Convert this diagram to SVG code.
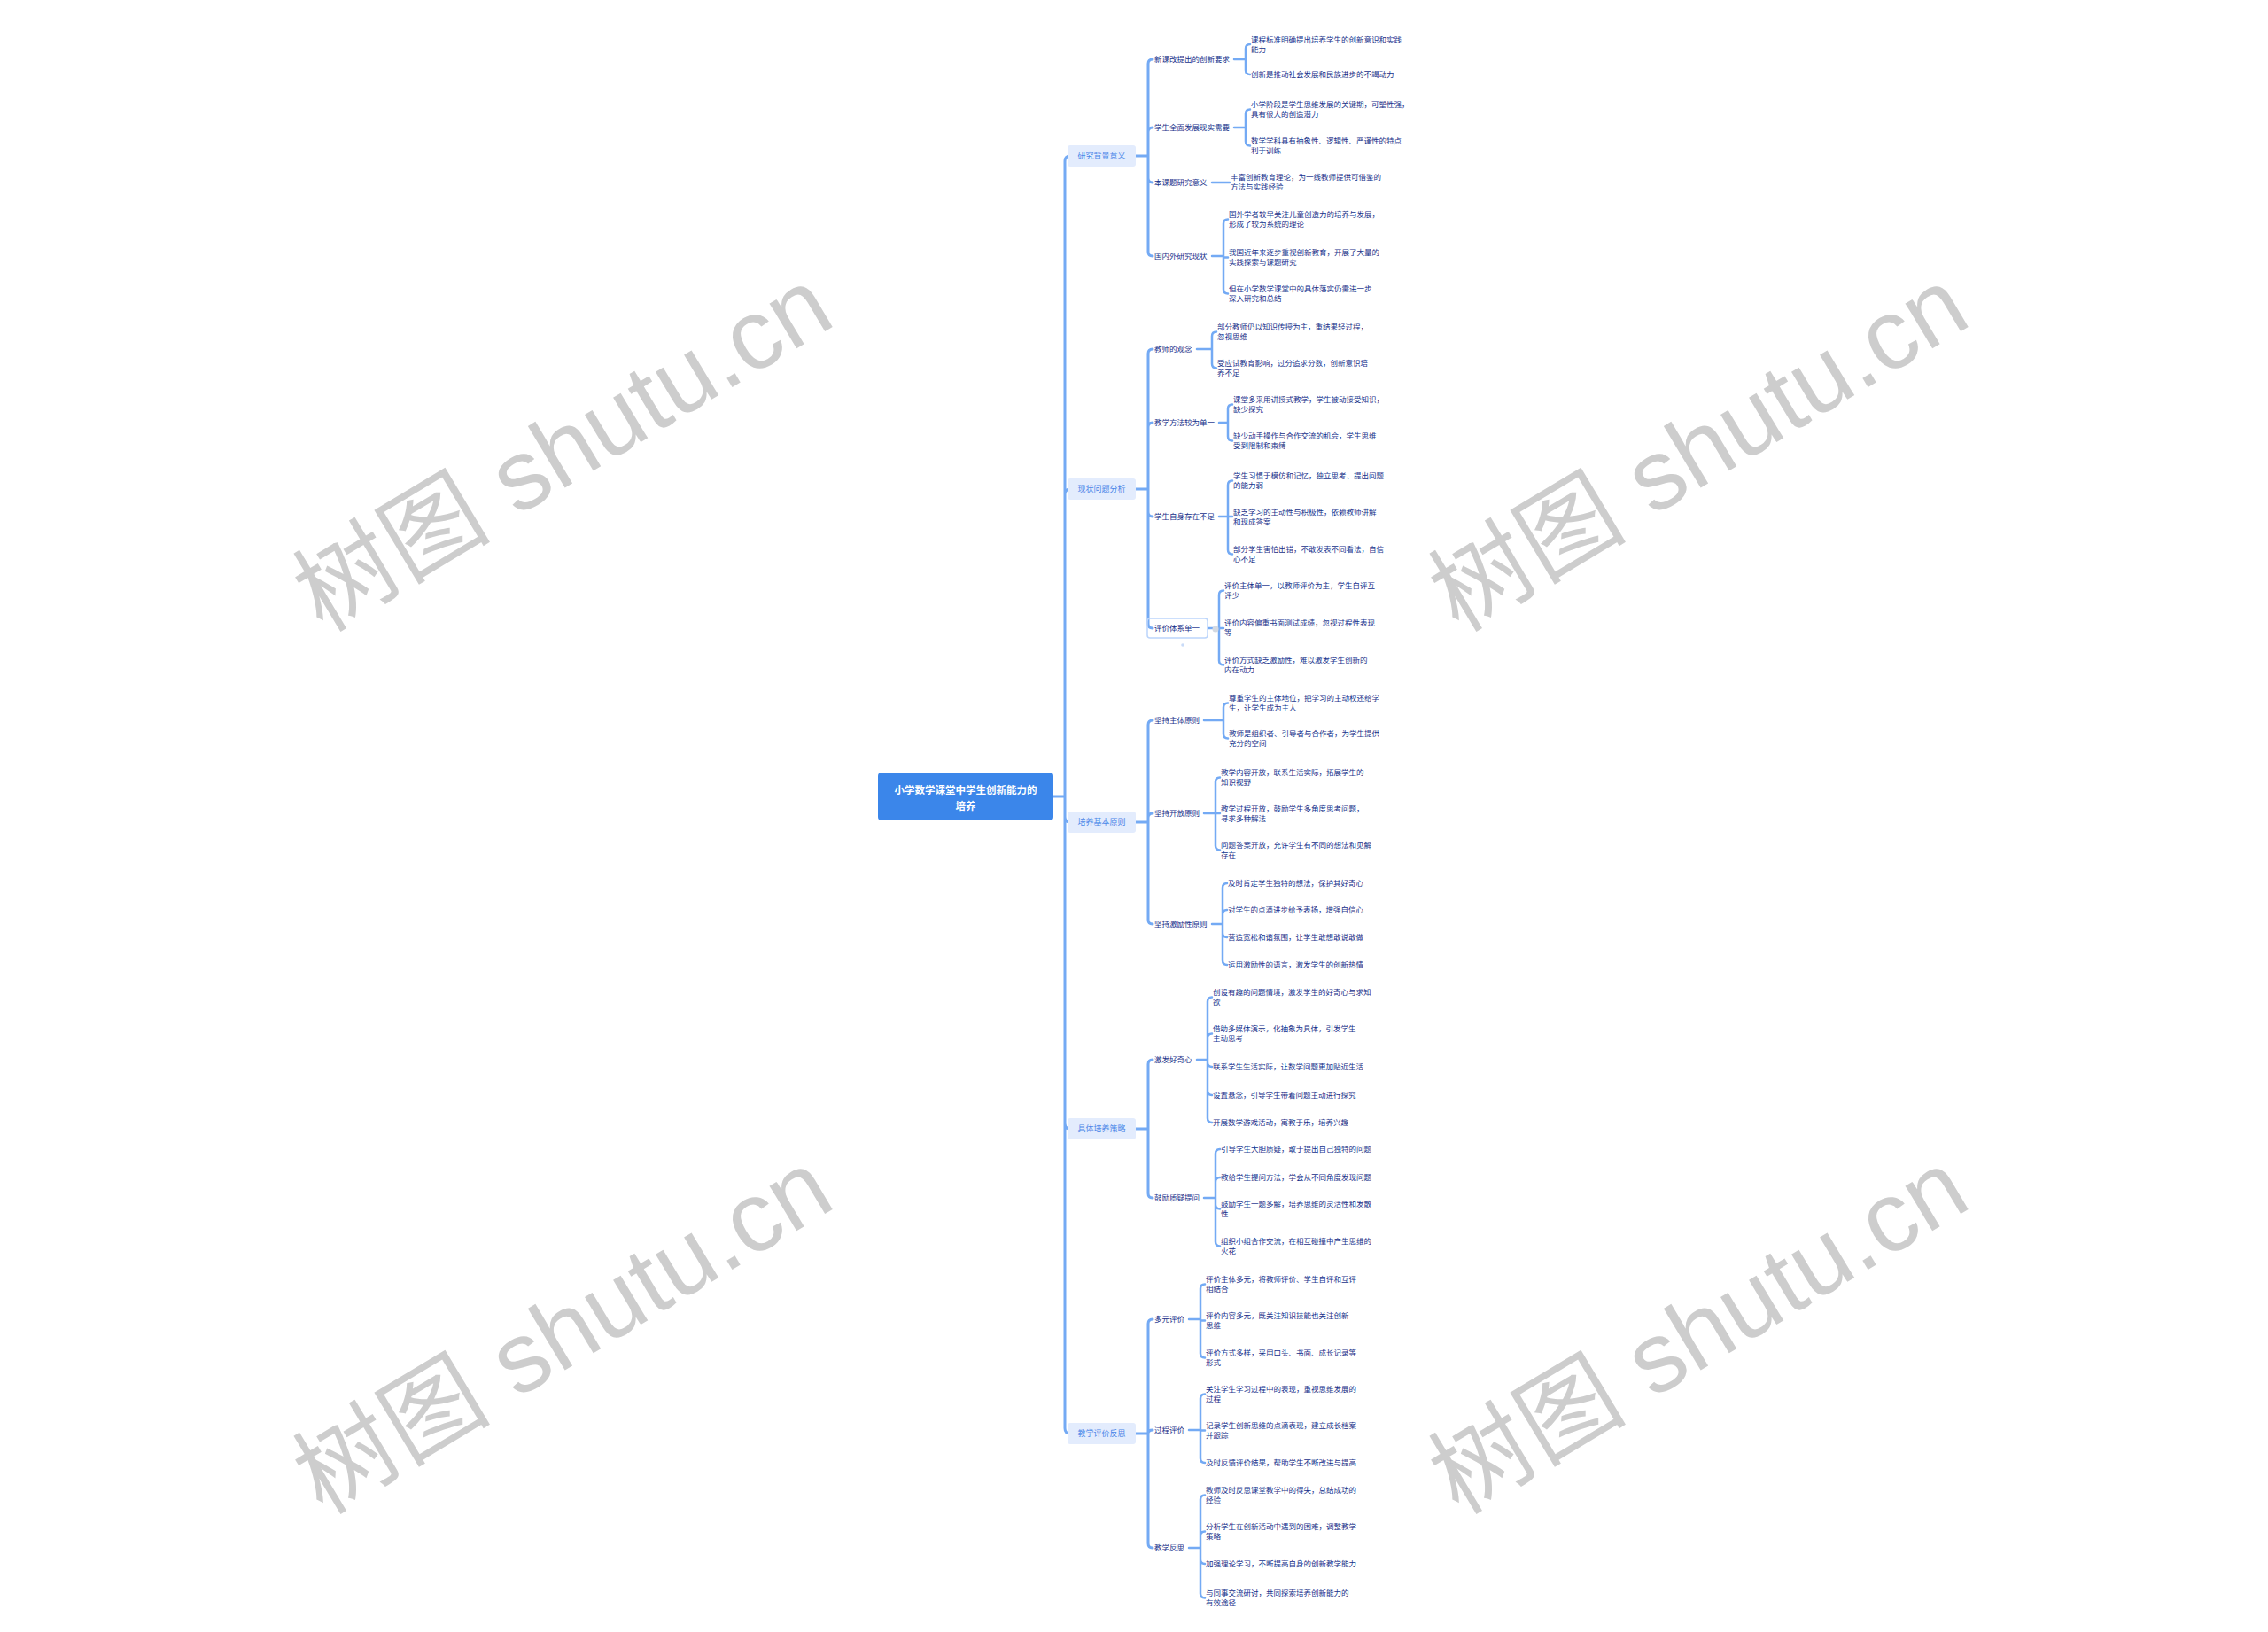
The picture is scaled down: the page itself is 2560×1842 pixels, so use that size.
<svg xmlns="http://www.w3.org/2000/svg" width="2560" height="1842" viewBox="0 0 2560 1842">
<style>
.wm{font-family:"Liberation Sans","Noto Sans CJK SC",sans-serif;font-size:112px;fill:#cdcdcd;text-anchor:middle}
.ln{fill:none;stroke:#74aaf4;stroke-width:2.5;stroke-linecap:round;stroke-linejoin:round}
.tk{stroke-width:3}
.t{font-family:"Noto Sans CJK SC",sans-serif;font-size:8.5px;fill:#16308a}
.l1{fill:#e3ecfd}
.l1t{font-family:"Noto Sans CJK SC",sans-serif;font-size:9px;fill:#4a85e8;text-anchor:middle}
.rt{font-family:"Noto Sans CJK SC",sans-serif;font-size:11.5px;font-weight:bold;fill:#ffffff;text-anchor:middle}
</style>
<rect width="2560" height="1842" fill="#ffffff"/>
<g id="watermarks">
<text class="wm" transform="translate(655,540) rotate(-31)">树图 shutu.cn</text>
<text class="wm" transform="translate(1937,540) rotate(-31)">树图 shutu.cn</text>
<text class="wm" transform="translate(655,1536) rotate(-31)">树图 shutu.cn</text>
<text class="wm" transform="translate(1937,1536) rotate(-31)">树图 shutu.cn</text>
</g>
<g id="connectors">
<path class="ln tk" d="M1189,899H1202 M1202,899V182Q1202,176 1208,176 M1202,899V558Q1202,552 1208,552 M1202,899V922Q1202,928 1208,928 M1202,899V1268Q1202,1274 1208,1274 M1202,899V1612Q1202,1618 1208,1618"/>
<path class="ln tk" d="M1282,176H1296 M1296,176V72Q1296,67 1301,67 M1296,176V149Q1296,144 1301,144 M1296,176V201Q1296,206 1301,206 M1296,176V284Q1296,289 1301,289"/>
<path class="ln tk" d="M1282,552H1296 M1296,552V399Q1296,394 1301,394 M1296,552V482Q1296,477 1301,477 M1296,552V578Q1296,583 1301,583 M1296,552V704Q1296,709 1301,709"/>
<path class="ln tk" d="M1282,928H1296 M1296,928V818Q1296,813 1301,813 M1296,928V923Q1296,918 1301,918 M1296,928V1038Q1296,1043 1301,1043"/>
<path class="ln tk" d="M1282,1274H1296 M1296,1274V1201Q1296,1196 1301,1196 M1296,1274V1347Q1296,1352 1301,1352"/>
<path class="ln tk" d="M1282,1618H1296 M1296,1618V1494Q1296,1489 1301,1489 M1296,1618Q1296,1614 1301,1614 M1296,1618V1742Q1296,1747 1301,1747"/>
<path class="ln" d="M1393,67H1406 M1406,67V55Q1406,50 1411,50 M1406,67V79Q1406,84 1411,84"/>
<path class="ln" d="M1393,144H1406 M1406,144V128.5Q1406,123.5 1411,123.5 M1406,144V159.5Q1406,164.5 1411,164.5"/>
<path class="ln" d="M1368,206H1388"/>
<path class="ln" d="M1368,289H1381 M1381,289V252.5Q1381,247.5 1386,247.5 M1381,289V290.5H1386 M1381,289V326.5Q1381,331.5 1386,331.5"/>
<path class="ln" d="M1351,394H1368 M1368,394V379.5Q1368,374.5 1373,374.5 M1368,394V410.5Q1368,415.5 1373,415.5"/>
<path class="ln" d="M1376,477H1386 M1386,477V461.5Q1386,456.5 1391,456.5 M1386,477V492.5Q1386,497.5 1391,497.5"/>
<path class="ln" d="M1376,583H1386 M1386,583V547.5Q1386,542.5 1391,542.5 M1386,583H1391 M1386,583V620.5Q1386,625.5 1391,625.5"/>
<path class="ln" d="M1364,709H1376 M1376,709V671.5Q1376,666.5 1381,666.5 M1376,709H1381 M1376,709V745.5Q1376,750.5 1381,750.5"/>
<path class="ln" d="M1359,813H1381 M1381,813V798.5Q1381,793.5 1386,793.5 M1381,813V828.5Q1381,833.5 1386,833.5"/>
<path class="ln" d="M1359,918H1372 M1372,918V882.5Q1372,877.5 1377,877.5 M1372,918H1377 M1372,918V954.5Q1372,959.5 1377,959.5"/>
<path class="ln" d="M1368,1043H1380 M1380,1043V1002Q1380,997 1385,997 M1380,1043V1032Q1380,1027 1385,1027 M1380,1043V1053Q1380,1058 1385,1058 M1380,1043V1084Q1380,1089 1385,1089"/>
<path class="ln" d="M1351,1196H1363 M1363,1196V1130.5Q1363,1125.5 1368,1125.5 M1363,1196V1171.5Q1363,1166.5 1368,1166.5 M1363,1196V1199Q1363,1204 1368,1204 M1363,1196V1231Q1363,1236 1368,1236 M1363,1196V1262Q1363,1267 1368,1267"/>
<path class="ln" d="M1359,1352H1372 M1372,1352V1302Q1372,1297 1377,1297 M1372,1352V1334Q1372,1329 1377,1329 M1372,1352V1359.5Q1372,1364.5 1377,1364.5 M1372,1352V1401.5Q1372,1406.5 1377,1406.5"/>
<path class="ln" d="M1342,1489H1355 M1355,1489V1454.5Q1355,1449.5 1360,1449.5 M1355,1489V1490.5H1360 M1355,1489V1527.5Q1355,1532.5 1360,1532.5"/>
<path class="ln" d="M1342,1614H1355 M1355,1614V1578.5Q1355,1573.5 1360,1573.5 M1355,1614V1614.5H1360 M1355,1614V1646Q1355,1651 1360,1651"/>
<path class="ln" d="M1342,1747H1355 M1355,1747V1692.5Q1355,1687.5 1360,1687.5 M1355,1747V1733.5Q1355,1728.5 1360,1728.5 M1355,1747V1760Q1355,1765 1360,1765 M1355,1747V1798.5Q1355,1803.5 1360,1803.5"/>
</g>
<g id="root">
<rect x="991" y="872" width="198" height="54" rx="4" fill="#3b86ea"/>
<text class="rt" x="1090" y="896">小学数学课堂中学生创新能力的<tspan x="1090" dy="18">培养</tspan></text>
</g>
<g id="n1"><rect class="l1" x="1205" y="164" width="77" height="24" rx="3"/><text class="l1t" x="1243.5" y="179">研究背景意义</text></g>
<g id="n2"><rect class="l1" x="1205" y="540" width="77" height="24" rx="3"/><text class="l1t" x="1243.5" y="555">现状问题分析</text></g>
<g id="n3"><rect class="l1" x="1205" y="916" width="77" height="24" rx="3"/><text class="l1t" x="1243.5" y="931">培养基本原则</text></g>
<g id="n4"><rect class="l1" x="1205" y="1262" width="77" height="24" rx="3"/><text class="l1t" x="1243.5" y="1277">具体培养策略</text></g>
<g id="n5"><rect class="l1" x="1205" y="1606" width="77" height="24" rx="3"/><text class="l1t" x="1243.5" y="1621">教学评价反思</text></g>
<g id="n1a"><text class="t" x="1303" y="70">新课改提出的创新要求</text></g>
<g id="n1b"><text class="t" x="1303" y="147">学生全面发展现实需要</text></g>
<g id="n1c"><text class="t" x="1303" y="209">本课题研究意义</text></g>
<g id="n1d"><text class="t" x="1303" y="292">国内外研究现状</text></g>
<g id="n2a"><text class="t" x="1303" y="397">教师的观念</text></g>
<g id="n2b"><text class="t" x="1303" y="480">教学方法较为单一</text></g>
<g id="n2c"><text class="t" x="1303" y="586">学生自身存在不足</text></g>
<g id="n2d"><rect x="1295" y="698" width="68" height="22" rx="3" fill="none" stroke="#bcd5fb" stroke-width="1.5"/><circle cx="1372" cy="710" r="3.5" fill="#d3d9e2"/><circle cx="1335" cy="728" r="1.8" fill="#c9dbf8"/><text class="t" x="1303" y="712">评价体系单一</text></g>
<g id="n3a"><text class="t" x="1303" y="816">坚持主体原则</text></g>
<g id="n3b"><text class="t" x="1303" y="921">坚持开放原则</text></g>
<g id="n3c"><text class="t" x="1303" y="1046">坚持激励性原则</text></g>
<g id="n4a"><text class="t" x="1303" y="1199">激发好奇心</text></g>
<g id="n4b"><text class="t" x="1303" y="1355">鼓励质疑提问</text></g>
<g id="n5a"><text class="t" x="1303" y="1492">多元评价</text></g>
<g id="n5b"><text class="t" x="1303" y="1617">过程评价</text></g>
<g id="n5c"><text class="t" x="1303" y="1750">教学反思</text></g>
<g id="n1a1"><text class="t" x="1412" y="47.5">课程标准明确提出培养学生的创新意识和实践<tspan x="1412" dy="11">能力</tspan></text></g>
<g id="n1a2"><text class="t" x="1412" y="87">创新是推动社会发展和民族进步的不竭动力</text></g>
<g id="n1b1"><text class="t" x="1412" y="121">小学阶段是学生思维发展的关键期，可塑性强，<tspan x="1412" dy="11">具有很大的创造潜力</tspan></text></g>
<g id="n1b2"><text class="t" x="1412" y="162">数学学科具有抽象性、逻辑性、严谨性的特点<tspan x="1412" dy="11">利于训练</tspan></text></g>
<g id="n1c1"><text class="t" x="1389" y="203">丰富创新教育理论，为一线教师提供可借鉴的<tspan x="1389" dy="11">方法与实践经验</tspan></text></g>
<g id="n1d1"><text class="t" x="1387" y="245">国外学者较早关注儿童创造力的培养与发展，<tspan x="1387" dy="11">形成了较为系统的理论</tspan></text></g>
<g id="n1d2"><text class="t" x="1387" y="288">我国近年来逐步重视创新教育，开展了大量的<tspan x="1387" dy="11">实践探索与课题研究</tspan></text></g>
<g id="n1d3"><text class="t" x="1387" y="329">但在小学数学课堂中的具体落实仍需进一步<tspan x="1387" dy="11">深入研究和总结</tspan></text></g>
<g id="n2a1"><text class="t" x="1374" y="372">部分教师仍以知识传授为主，重结果轻过程，<tspan x="1374" dy="11">忽视思维</tspan></text></g>
<g id="n2a2"><text class="t" x="1374" y="413">受应试教育影响，过分追求分数，创新意识培<tspan x="1374" dy="11">养不足</tspan></text></g>
<g id="n2b1"><text class="t" x="1392" y="454">课堂多采用讲授式教学，学生被动接受知识，<tspan x="1392" dy="11">缺少探究</tspan></text></g>
<g id="n2b2"><text class="t" x="1392" y="495">缺少动手操作与合作交流的机会，学生思维<tspan x="1392" dy="11">受到限制和束缚</tspan></text></g>
<g id="n2c1"><text class="t" x="1392" y="540">学生习惯于模仿和记忆，独立思考、提出问题<tspan x="1392" dy="11">的能力弱</tspan></text></g>
<g id="n2c2"><text class="t" x="1392" y="581">缺乏学习的主动性与积极性，依赖教师讲解<tspan x="1392" dy="11">和现成答案</tspan></text></g>
<g id="n2c3"><text class="t" x="1392" y="623">部分学生害怕出错，不敢发表不同看法，自信<tspan x="1392" dy="11">心不足</tspan></text></g>
<g id="n2d1"><text class="t" x="1382" y="664">评价主体单一，以教师评价为主，学生自评互<tspan x="1382" dy="11">评少</tspan></text></g>
<g id="n2d2"><text class="t" x="1382" y="705.5">评价内容偏重书面测试成绩，忽视过程性表现<tspan x="1382" dy="11">等</tspan></text></g>
<g id="n2d3"><text class="t" x="1382" y="748">评价方式缺乏激励性，难以激发学生创新的<tspan x="1382" dy="11">内在动力</tspan></text></g>
<g id="n3a1"><text class="t" x="1387" y="791">尊重学生的主体地位，把学习的主动权还给学<tspan x="1387" dy="11">生，让学生成为主人</tspan></text></g>
<g id="n3a2"><text class="t" x="1387" y="831">教师是组织者、引导者与合作者，为学生提供<tspan x="1387" dy="11">充分的空间</tspan></text></g>
<g id="n3b1"><text class="t" x="1378" y="875">教学内容开放，联系生活实际，拓展学生的<tspan x="1378" dy="11">知识视野</tspan></text></g>
<g id="n3b2"><text class="t" x="1378" y="916">教学过程开放，鼓励学生多角度思考问题，<tspan x="1378" dy="11">寻求多种解法</tspan></text></g>
<g id="n3b3"><text class="t" x="1378" y="957">问题答案开放，允许学生有不同的想法和见解<tspan x="1378" dy="11">存在</tspan></text></g>
<g id="n3c1"><text class="t" x="1386" y="1000">及时肯定学生独特的想法，保护其好奇心</text></g>
<g id="n3c2"><text class="t" x="1386" y="1030">对学生的点滴进步给予表扬，增强自信心</text></g>
<g id="n3c3"><text class="t" x="1386" y="1061">营造宽松和谐氛围，让学生敢想敢说敢做</text></g>
<g id="n3c4"><text class="t" x="1386" y="1092">运用激励性的语言，激发学生的创新热情</text></g>
<g id="n4a1"><text class="t" x="1369" y="1123">创设有趣的问题情境，激发学生的好奇心与求知<tspan x="1369" dy="11">欲</tspan></text></g>
<g id="n4a2"><text class="t" x="1369" y="1164">借助多媒体演示，化抽象为具体，引发学生<tspan x="1369" dy="11">主动思考</tspan></text></g>
<g id="n4a3"><text class="t" x="1369" y="1207">联系学生生活实际，让数学问题更加贴近生活</text></g>
<g id="n4a4"><text class="t" x="1369" y="1239">设置悬念，引导学生带着问题主动进行探究</text></g>
<g id="n4a5"><text class="t" x="1369" y="1270">开展数学游戏活动，寓教于乐，培养兴趣</text></g>
<g id="n4b1"><text class="t" x="1378" y="1300">引导学生大胆质疑，敢于提出自己独特的问题</text></g>
<g id="n4b2"><text class="t" x="1378" y="1332">教给学生提问方法，学会从不同角度发现问题</text></g>
<g id="n4b3"><text class="t" x="1378" y="1362">鼓励学生一题多解，培养思维的灵活性和发散<tspan x="1378" dy="11">性</tspan></text></g>
<g id="n4b4"><text class="t" x="1378" y="1404">组织小组合作交流，在相互碰撞中产生思维的<tspan x="1378" dy="11">火花</tspan></text></g>
<g id="n5a1"><text class="t" x="1361" y="1447">评价主体多元，将教师评价、学生自评和互评<tspan x="1361" dy="11">相结合</tspan></text></g>
<g id="n5a2"><text class="t" x="1361" y="1488">评价内容多元，既关注知识技能也关注创新<tspan x="1361" dy="11">思维</tspan></text></g>
<g id="n5a3"><text class="t" x="1361" y="1530">评价方式多样，采用口头、书面、成长记录等<tspan x="1361" dy="11">形式</tspan></text></g>
<g id="n5b1"><text class="t" x="1361" y="1571">关注学生学习过程中的表现，重视思维发展的<tspan x="1361" dy="11">过程</tspan></text></g>
<g id="n5b2"><text class="t" x="1361" y="1612">记录学生创新思维的点滴表现，建立成长档案<tspan x="1361" dy="11">并跟踪</tspan></text></g>
<g id="n5b3"><text class="t" x="1361" y="1654">及时反馈评价结果，帮助学生不断改进与提高</text></g>
<g id="n5c1"><text class="t" x="1361" y="1685">教师及时反思课堂教学中的得失，总结成功的<tspan x="1361" dy="11">经验</tspan></text></g>
<g id="n5c2"><text class="t" x="1361" y="1726">分析学生在创新活动中遇到的困难，调整教学<tspan x="1361" dy="11">策略</tspan></text></g>
<g id="n5c3"><text class="t" x="1361" y="1768">加强理论学习，不断提高自身的创新教学能力</text></g>
<g id="n5c4"><text class="t" x="1361" y="1801">与同事交流研讨，共同探索培养创新能力的<tspan x="1361" dy="11">有效途径</tspan></text></g>
</svg>
